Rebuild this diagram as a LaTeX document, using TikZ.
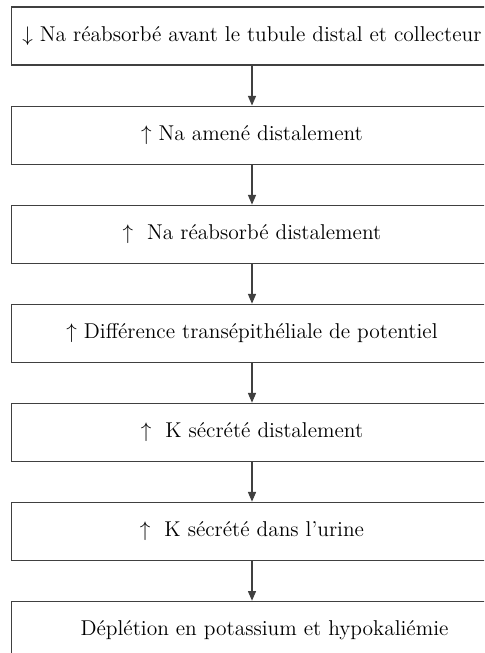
\documentclass[tikz,border=0pt]{standalone}
\usetikzlibrary{positioning,arrows.meta}

\tikzset{
    stepbox/.style={draw=black!75, line width=0.6pt, rectangle,
        minimum width=9.64cm, minimum height=1.16cm, inner sep=0pt,
        font=\fontsize{12.2}{14}\selectfont},
    flowarrow/.style={draw=black!75, line width=0.6pt,
        -{Triangle[length=5.5pt, width=4.6pt]}}
}

\begin{document}
\begin{tikzpicture}[x=0.02cm, y=-0.02cm, node distance=0.8cm]
    % page frame, the boxes run past the right and bottom edges
    \clip (0,0) rectangle (484,653);

    % cascade of steps
    \node[stepbox] (naprox) at (252,36) {$\downarrow$ Na réabsorbé avant le tubule distal et collecteur};
    \node[stepbox, below=of naprox] (naamene) {$\uparrow$ Na amené distalement};
    \node[stepbox, below=of naamene] (nareabs) {$\uparrow$\ \ Na réabsorbé distalement};
    \node[stepbox, below=of nareabs] (ddp) {$\uparrow$ Différence transépithéliale de potentiel};
    \node[stepbox, below=of ddp] (ksecr) {$\uparrow$\ \ K sécrété distalement};
    \node[stepbox, below=of ksecr] (kurine) {$\uparrow$\ \ K sécrété dans l’urine};
    \node[stepbox, below=of kurine] (deplet) {\hspace{0.5cm}Déplétion en potassium et hypokaliémie};

    % connectors
    \draw[flowarrow] (naprox) -- (naamene);
    \draw[flowarrow] (naamene) -- (nareabs);
    \draw[flowarrow] (nareabs) -- (ddp);
    \draw[flowarrow] (ddp) -- (ksecr);
    \draw[flowarrow] (ksecr) -- (kurine);
    \draw[flowarrow] (kurine) -- (deplet);
\end{tikzpicture}
\end{document}
